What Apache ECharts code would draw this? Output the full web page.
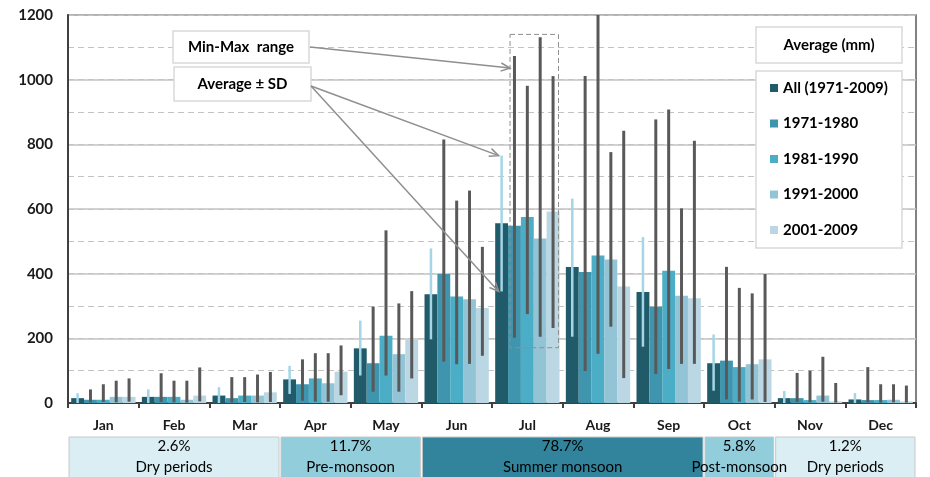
<!DOCTYPE html>
<html>
<head>
<meta charset="utf-8">
<script src="https://cdn.jsdelivr.net/npm/echarts@6/dist/echarts.min.js"></script>
<style>
	html, body { margin: 0; padding: 0; background: #fff; }
	#main { width: 930px; height: 477px; }
</style>
</head>
<body>
<div id="main"></div>
<script>
var months = ['Jan', 'Feb', 'Mar', 'Apr', 'May', 'Jun', 'Jul', 'Aug', 'Sep', 'Oct', 'Nov', 'Dec'];
var seriesNames = ['All (1971-2009)', '1971-1980', '1981-1990', '1991-2000', '2001-2009'];
var yTicks = [0, 200, 400, 600, 800, 1000, 1200];

// average monthly rainfall (mm)
var avgAll = [15, 19, 23, 73, 169, 336, 556, 421, 343, 123, 15, 11];
var avg7180 = [10, 19, 15, 58, 123, 399, 548, 405, 298, 131, 15, 9];
var avg8190 = [10, 19, 23, 76, 208, 329, 575, 456, 409, 111, 9, 9];
var avg9100 = [19, 10, 23, 61, 151, 321, 509, 444, 332, 120, 23, 10];
var avg0109 = [19, 23, 33, 97, 197, 294, 592, 360, 324, 135, 5, 5];

// average +- SD (all years)
var sdLow = [0, 0, 0, 28, 85, 197, 345, 205, 174, 38, 0, 0];
var sdHigh = [30, 42, 49, 115, 255, 478, 765, 632, 513, 212, 37, 31];

// min-max range per decade
var min7180 = [2, 3, 2, 7, 35, 128, 202, 99, 90, 11, 3, 2];
var max7180 = [42, 92, 80, 135, 298, 815, 1073, 1011, 877, 421, 93, 111];
var min8190 = [3, 2, 3, 4, 85, 120, 275, 152, 105, 4, 2, 1];
var max8190 = [58, 69, 80, 154, 534, 626, 981, 1250, 908, 356, 100, 58];
var min9100 = [2, 1, 2, 4, 35, 121, 205, 236, 121, 11, 4, 2];
var max9100 = [69, 69, 88, 154, 308, 657, 1131, 776, 602, 339, 143, 58];
var min0109 = [4, 5, 3, 24, 76, 146, 232, 77, 121, 3, 1, 1];
var max0109 = [76, 110, 96, 178, 346, 483, 1011, 842, 811, 399, 62, 54];

// seasons under the axis
var periodNames = ['Dry periods', 'Pre-monsoon', 'Summer monsoon', 'Post-monsoon', 'Dry periods'];
var periodShares = ['2.6%', '11.7%', '78.7%', '5.8%', '1.2%'];
var periodFirst = [0, 3, 5, 9, 10];
var periodLast = [2, 4, 8, 9, 11];

var barColors = ['#215a69', '#3f95ae', '#4badc6', '#93c4d6', '#bad7e3'];
var periodColors = ['#daeef3', '#92cddc', '#31849b', '#92cddc', '#daeef3'];
var catGap = 0.09;
var font = 'Lato, "Open Sans", sans-serif';

var avgs = [avgAll, avg7180, avg8190, avg9100, avg0109];
var lows = [sdLow, min7180, min8190, min9100, min0109];
var highs = [sdHigh, max7180, max8190, max9100, max0109];

var rangeData = [];
for (var k = 0; k < 5; k++) {
	for (var m = 0; m < months.length; m++) {
		rangeData.push([m, lows[k][m], highs[k][m], k]);
	}
}

function renderRange(params, api) {
	var m = api.value(0);
	var k = api.value(3);
	var band = api.size([1, 0])[0];
	var gw = band * (1 - catGap);
	var x = api.coord([m, 0])[0] - gw / 2 + gw / 5 * (k + 0.5);
	var lo = api.coord([m, api.value(1)]);
	var hi = api.coord([m, api.value(2)]);
	return {
		type: 'line',
		shape: { x1: x, y1: lo[1], x2: x, y2: hi[1] },
		style: { stroke: k === 0 ? '#a3d6e6' : '#595959', lineWidth: k === 0 ? 2.5 : 3 }
	};
}

var myChart = echarts.init(document.getElementById('main'));

var series = [];
for (var i = 0; i < 5; i++) {
	series.push({
		name: seriesNames[i],
		type: 'bar',
		data: avgs[i],
		barGap: '0%',
		barCategoryGap: (catGap * 100) + '%',
		itemStyle: { color: barColors[i] },
		silent: true
	});
}
series.push({
	type: 'custom',
	renderItem: renderRange,
	data: rangeData,
	encode: { x: 0, y: [1, 2] },
	clip: true,
	z: 5,
	silent: true
});

option = {
	animation: false,
	textStyle: { fontFamily: font },
	grid: {
		left: 68,
		right: 14,
		top: 15,
		bottom: 74,
		show: true,
		borderColor: '#595959',
		borderWidth: 1.5
	},
	legend: {
		data: seriesNames,
		orient: 'vertical',
		left: 765,
		top: 74,
		padding: 5,
		itemWidth: 8,
		itemHeight: 8,
		itemGap: 17.5,
		icon: 'rect',
		z: 20,
		textStyle: { fontFamily: font, fontSize: 15, fontWeight: 'bold', color: '#000', lineHeight: 18 }
	},
	xAxis: {
		type: 'category',
		data: months,
		axisLine: { lineStyle: { color: '#404040', width: 2 } },
		axisTick: { show: true, length: 5, lineStyle: { color: '#404040', width: 2 } },
		axisLabel: { margin: 15, fontSize: 14, fontWeight: 'bold', color: '#1a1a1a', fontFamily: font }
	},
	yAxis: [{
		type: 'value',
		min: yTicks[0],
		max: yTicks[yTicks.length - 1],
		interval: yTicks[1] - yTicks[0],
		axisLine: { show: true, lineStyle: { color: '#404040', width: 2 } },
		axisTick: { show: false },
		axisLabel: {
			margin: 15,
			fontSize: 15,
			fontWeight: 'bold',
			color: '#1a1a1a',
			fontFamily: font,
			formatter: function(v) { return String(v); }
		},
		splitLine: { lineStyle: { color: '#c3c3c3', width: 1.5 } }
	}, {
		type: 'value',
		position: 'right',
		min: 0,
		max: 1200,
		interval: 100,
		alignTicks: false,
		axisLine: { show: false },
		axisTick: { show: false },
		axisLabel: { show: false },
		splitLine: { lineStyle: { color: '#c3c3c3', width: 1.2, type: [6, 4] } }
	}],
	series: series
};
myChart.setOption(option);

// annotation layer, placed from the axis scales
function px(m, v) {
	return myChart.convertToPixel({ gridIndex: 0 }, [m, v]);
}
var band = px(1, 0)[0] - px(0, 0)[0];
var gw = band * (1 - catGap);
var bw = gw / 5;
function barX(m, k) {
	return px(m, 0)[0] - gw / 2 + bw * (k + 0.5);
}

function arrow(x1, y1, x2, y2) {
	var a = Math.atan2(y2 - y1, x2 - x1);
	var l = 10, s = 0.42;
	return [{
		type: 'line',
		z: 30,
		shape: { x1: x1, y1: y1, x2: x2, y2: y2 },
		style: { stroke: '#8f8f8f', lineWidth: 1.5 }
	}, {
		type: 'polyline',
		z: 30,
		shape: { points: [
			[x2 - l * Math.cos(a - s), y2 - l * Math.sin(a - s)],
			[x2, y2],
			[x2 - l * Math.cos(a + s), y2 - l * Math.sin(a + s)]
		] },
		style: { stroke: '#8f8f8f', lineWidth: 1.5, fill: null }
	}];
}

function box(x, y, w, h, text) {
	return {
		type: 'group',
		z: 25,
		children: [{
			type: 'rect',
			shape: { x: x, y: y, width: w, height: h },
			style: { fill: '#fff', stroke: '#d9d9d9', lineWidth: 1.5 }
		}, {
			type: 'text',
			x: x + w / 2,
			y: y + h / 2,
			style: { text: text || '', fontFamily: font, fontSize: 15, fontWeight: 'bold', fill: '#000', align: 'center', verticalAlign: 'middle' }
		}]
	};
}

var gfx = [];
gfx.push(box(173, 31, 136, 32, 'Min-Max  range'));
gfx.push(box(174, 67, 137, 34, 'Average ± SD'));
gfx.push(box(756, 27, 146, 36, 'Average (mm)'));
gfx.push(box(756, 71, 146, 177, ''));

var jul = 6;
var boxL = barX(jul, 1) - bw / 2 + 2;
var boxR = barX(jul, 4) + bw / 2 - 1;
var boxT = px(jul, 1140)[1];
var boxB = px(jul, 171)[1];
gfx.push({
	type: 'rect',
	z: 28,
	shape: { x: boxL, y: boxT, width: boxR - boxL, height: boxB - boxT },
	style: { fill: null, stroke: '#8f8f8f', lineWidth: 1, lineDash: [5, 3] }
});
gfx = gfx.concat(arrow(310, 47, boxL, px(jul, 1036)[1]));
gfx = gfx.concat(arrow(311, 86, barX(jul, 0) - 3, px(jul, sdHigh[jul])[1]));
gfx = gfx.concat(arrow(311, 86, barX(jul, 0) - 3, px(jul, sdLow[jul])[1]));

for (var p = 0; p < periodNames.length; p++) {
	var left = px(periodFirst[p], 0)[0] - band / 2 + 1;
	var right = px(periodLast[p], 0)[0] + band / 2 - 1;
	gfx.push({
		type: 'rect',
		z: 10,
		shape: { x: left, y: 437, width: right - left, height: 42 },
		style: { fill: periodColors[p], stroke: '#c8c8c8', lineWidth: 1 }
	});
	gfx.push({
		type: 'text',
		z: 11,
		x: (left + right) / 2,
		y: 446,
		style: { text: periodShares[p], fontFamily: font, fontSize: 15, fill: '#000', align: 'center', verticalAlign: 'middle' }
	});
	gfx.push({
		type: 'text',
		z: 11,
		x: (left + right) / 2,
		y: 467,
		style: { text: periodNames[p], fontFamily: font, fontSize: 15, fill: '#000', align: 'center', verticalAlign: 'middle' }
	});
}

myChart.setOption({ graphic: { elements: gfx } });
</script>
</body>
</html>
